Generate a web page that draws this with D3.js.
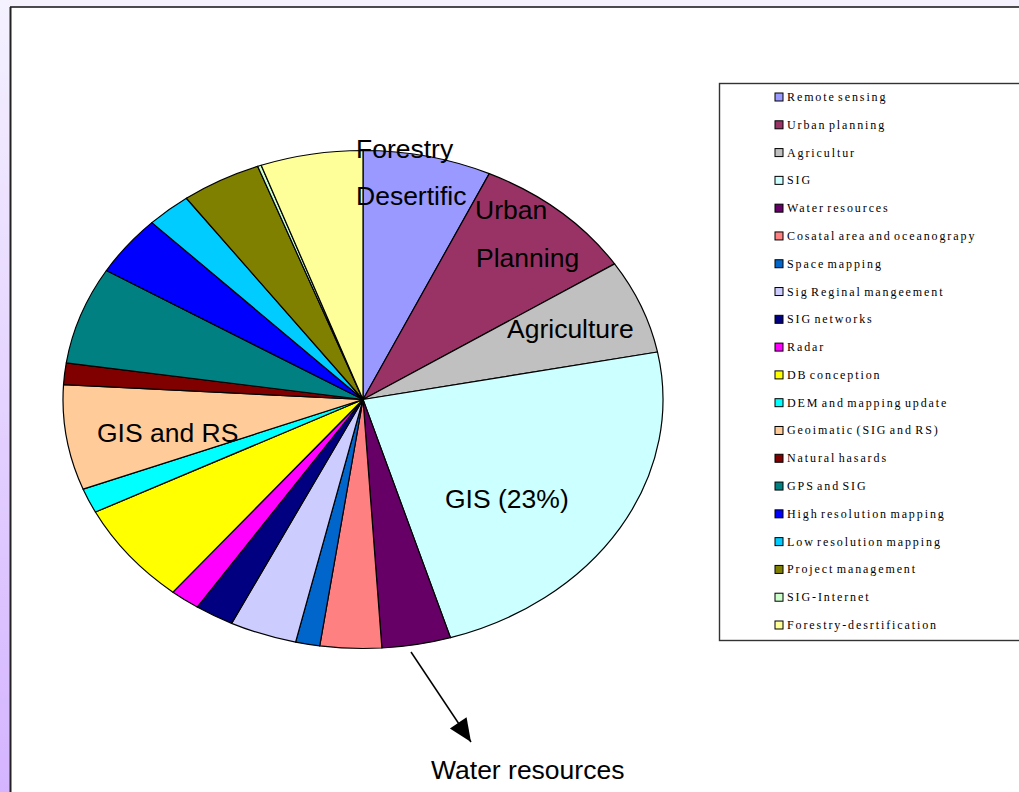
<!DOCTYPE html>
<html>
<head>
<meta charset="utf-8">
<script src="https://cdn.jsdelivr.net/npm/d3@7"></script>
<style>
  html, body { margin: 0; padding: 0; background: #f4f1fe; }
  svg { display: block; }
</style>
</head>
<body>
<svg id="chart" width="1019" height="792"></svg>
<script>
// ---- data ----
const categories = [
  "Remote sensing", "Urban planning", "Agricultur", "SIG", "Water resources",
  "Cosatal area and oceanograpy", "Space mapping", "Sig Reginal mangeement", "SIG networks", "Radar",
  "DB conception", "DEM and mapping update", "Geoimatic (SIG and RS)", "Natural hasards", "GPS and SIG",
  "High resolution mapping", "Low resolution mapping", "Project management", "SIG-Internet", "Forestry-desrtification"
];
const values = [
  6.9, 8.9, 6.1, 23.3, 3.7,
  3.3, 1.3, 3.6, 2.1, 1.6,
  6.6, 1.6, 6.8, 1.4, 6.3,
  3.9, 2.4, 4.3, 0.2, 5.5
];
const colors = [
  "#9999ff", "#993366", "#c0c0c0", "#ccffff", "#660066",
  "#ff8080", "#0066cc", "#ccccff", "#000080", "#ff00ff",
  "#ffff00", "#00ffff", "#ffcc99", "#800000", "#008080",
  "#0000ff", "#00ccff", "#808000", "#ccffcc", "#ffff99"
];
const annotationTexts = ["Forestry", "Desertific", "Urban", "Planning", "Agriculture", "GIS (23%)", "GIS and RS", "Water resources"];

// ---- layout ----
const svg = d3.select("#chart");
const W = 1019, H = 792;

// background frame
const defs = svg.append("defs");
const grad = defs.append("linearGradient").attr("id", "side").attr("x1", 0).attr("y1", 0).attr("x2", 0).attr("y2", 1);
grad.append("stop").attr("offset", "0%").attr("stop-color", "#f5f2ff");
grad.append("stop").attr("offset", "100%").attr("stop-color", "#d4b4ff");
svg.append("rect").attr("x", 0).attr("y", 0).attr("width", W).attr("height", H).attr("fill", "#f5f2fe");
svg.append("rect").attr("x", 0).attr("y", 0).attr("width", 10).attr("height", H).attr("fill", "url(#side)");
svg.append("rect").attr("x", 10).attr("y", 7).attr("width", W - 10).attr("height", H - 7).attr("fill", "#ffffff");
svg.append("line").attr("x1", 10).attr("y1", 7).attr("x2", W).attr("y2", 7).attr("stroke", "#111").attr("stroke-width", 1.5);
svg.append("line").attr("x1", 10.5).attr("y1", 7).attr("x2", 10.5).attr("y2", H).attr("stroke", "#222").attr("stroke-width", 2);

// pie (elliptical)
const cx = 363, cy = 399.5, rx = 300, ry = 249;
const pie = d3.pie().sort(null).value(d => d).startAngle(0).endAngle(2 * Math.PI);
const arc = d3.arc().innerRadius(0).outerRadius(rx);
const arcs = pie(values);

const pg = svg.append("g").attr("transform", `translate(${cx},${cy}) scale(1,${ry / rx})`);
pg.selectAll("path").data(arcs).join("path")
  .attr("d", arc)
  .attr("fill", (d, i) => colors[i])
  .attr("stroke", "#000")
  .attr("stroke-width", 1.2)
  .attr("vector-effect", "non-scaling-stroke")
  .attr("stroke-linejoin", "round");

// annotations
const annPos = [[356, 158], [356, 205], [475, 219], [476, 267], [507, 338], [445, 508], [97, 442], [431, 779]];
svg.append("g").selectAll("text").data(annotationTexts).join("text")
  .attr("x", (d, i) => annPos[i][0])
  .attr("y", (d, i) => annPos[i][1])
  .attr("font-family", "'Liberation Sans', Arial, sans-serif")
  .attr("font-size", 26.5)
  .attr("fill", "#000")
  .text(d => d);

// arrow
svg.append("path")
  .attr("d", "M411,652 L471,742")
  .attr("stroke", "#000").attr("stroke-width", 1.5).attr("fill", "none");
(function () {
  const x1 = 411, y1 = 652, x2 = 471, y2 = 742;
  const a = Math.atan2(y2 - y1, x2 - x1);
  const L = 23, Wd = 10;
  const bx = x2 - L * Math.cos(a), by = y2 - L * Math.sin(a);
  const px = -Math.sin(a) * Wd, py = Math.cos(a) * Wd;
  svg.append("path")
    .attr("d", `M${x2},${y2} L${bx + px},${by + py} L${bx - px},${by - py} Z`)
    .attr("fill", "#000");
})();

// legend
const lg = svg.append("g");
lg.append("rect").attr("x", 719.5).attr("y", 83.5).attr("width", 320).attr("height", 557)
  .attr("fill", "#fff").attr("stroke", "#333").attr("stroke-width", 1.4);
const rowY = d3.scalePoint().domain(categories).range([97, 625]);
const rows = lg.selectAll("g.row").data(categories).join("g").attr("class", "row")
  .attr("transform", d => `translate(0,${rowY(d)})`);
rows.append("rect").attr("x", 775).attr("y", -4).attr("width", 8).attr("height", 8)
  .attr("fill", (d, i) => colors[i]).attr("stroke", "#000").attr("stroke-width", 1);
rows.append("text").attr("x", 787).attr("y", 4)
  .attr("font-family", "'Liberation Serif', 'Times New Roman', serif")
  .attr("font-size", 12)
  .attr("letter-spacing", 1.9)
  .attr("word-spacing", -2.5)
  .attr("fill", "#000")
  .text(d => d);
</script>
</body>
</html>
